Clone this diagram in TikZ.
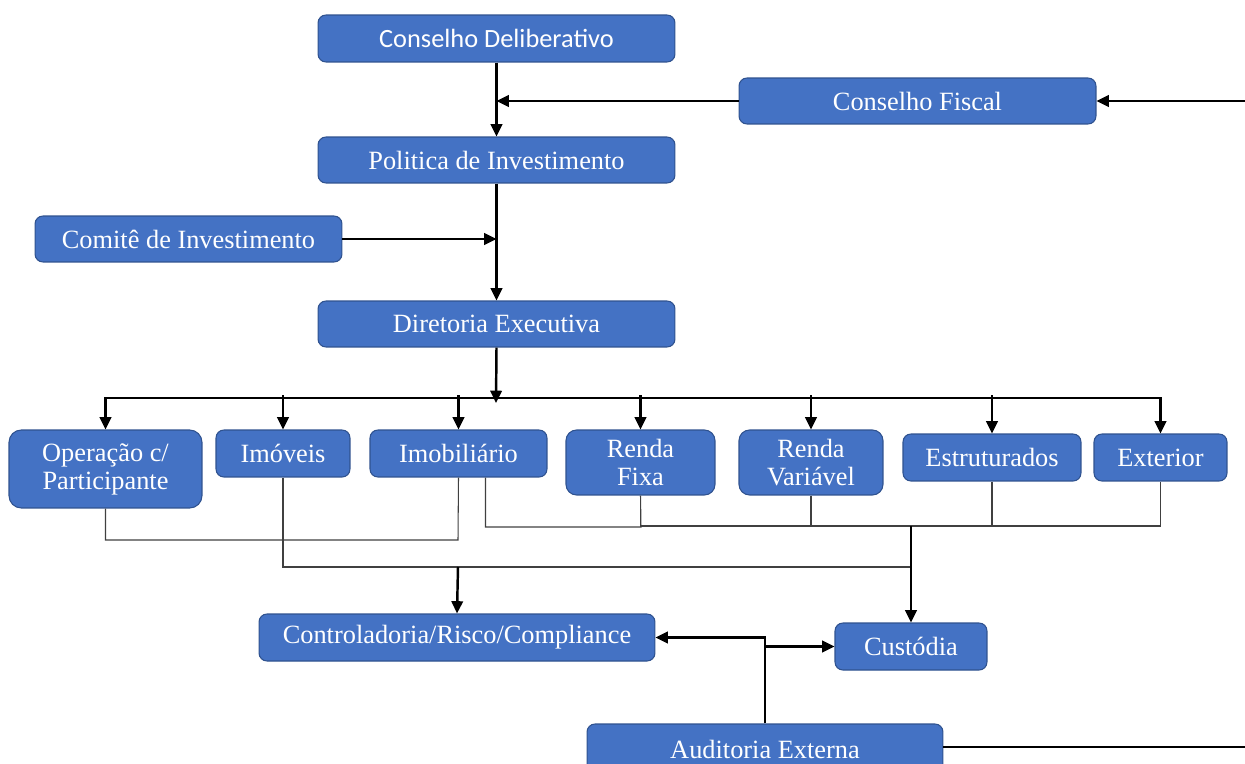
\documentclass[tikz,border=0pt]{standalone}
\usepackage{fontspec}
\setmainfont{Liberation Serif}
\newfontfamily\calib{Carlito}
\usepackage{tikz}
\usetikzlibrary{arrows.meta}

\tikzset{
  box/.style={draw=boxline, fill=boxblue, rounded corners=4.5pt, line width=0.6pt,
    text=white, inner sep=0pt, align=center, font=\fontsize{15}{16}\selectfont},
  arr/.style={-{Triangle[length=7pt,width=6.5pt]}, line width=1.4pt},
  twoarr/.style={{Triangle[length=7pt,width=6.5pt]}-{Triangle[length=7pt,width=6.5pt]}, line width=1.4pt},
  thin/.style={line width=0.6pt, draw=black!75}
}
\definecolor{boxblue}{HTML}{4472C4}
\definecolor{boxline}{HTML}{2F528F}

\begin{document}
\begin{tikzpicture}[x=0.02cm, y=-0.02cm]
\useasboundingbox (0,0) rectangle (1245,764);

\node[box, minimum width=7.14cm, minimum height=0.94cm, font=\calib\fontsize{15}{16}\selectfont] (cd) at (496.5,38.5) {Conselho Deliberativo};
\node[box, minimum width=7.14cm, minimum height=0.92cm] (cf) at (917.5,101) {Conselho Fiscal};
\node[box, minimum width=7.14cm, minimum height=0.92cm] (pi) at (496.5,160) {Politica de Investimento};
\node[box, minimum width=6.14cm, minimum height=0.92cm] (ci) at (188.5,239) {Comitê de Investimento};
\node[box, minimum width=7.14cm, minimum height=0.92cm] (de) at (496.5,324) {Diretoria Executiva};

\node[box, minimum width=3.86cm, minimum height=1.56cm, rounded corners=7pt] (op) at (105.5,469) {Operação c/\\Participante};
\node[box, minimum width=2.68cm, minimum height=0.94cm] (imo) at (283,453.5) {Imóveis};
\node[box, minimum width=3.54cm, minimum height=0.94cm] (imb) at (458.5,453.5) {Imobiliário};
\node[box, minimum width=2.98cm, minimum height=1.30cm, rounded corners=6pt] (rf) at (640.5,462.5) {Renda\\Fixa};
\node[box, minimum width=2.88cm, minimum height=1.30cm, rounded corners=6pt] (rv) at (811,462.5) {Renda\\Variável};
\node[box, minimum width=3.56cm, minimum height=0.94cm] (est) at (992,457.5) {Estruturados};
\node[box, minimum width=2.66cm, minimum height=0.94cm] (ext) at (1160.5,457.5) {Exterior};

\node[box, minimum width=7.92cm, minimum height=0.94cm] (ctl) at (457,637.5) {Controladoria/Risco/Compliance};
\node[box, minimum width=3.04cm, minimum height=0.94cm] (cus) at (911,646.5) {Custódia};
\node[box, minimum width=7.12cm, minimum height=1.02cm] (aud) at (765,749.5) {Auditoria Externa};

\coordinate (rt1) at (1245,101);
\coordinate (rt2) at (1245,747);
\coordinate (bus) at (496,403);
\coordinate (busl) at (496,398);
\coordinate (top) at (0,395);
\coordinate (l1) at (458,540);
\coordinate (l2) at (911,567);
\coordinate (l3) at (458,567);
\coordinate (l4) at (641,527);
\coordinate (l5) at (911,526);

% upper chain
\draw[arr] (cd.south) -- (pi.north);
\draw[arr] (cf.west) -- (cf.west -| cd.south);
\draw[arr] (rt1) -- (cf.east);
\draw[arr] (pi.south) -- (de.north);
\draw[arr] (ci.east) -- (ci.east -| pi.south);
\draw[arr] (de.south) -- (bus);

% distribution bus
\draw[twoarr] (op.north) |- (busl) -| (ext.north);
\foreach \n in {imo,imb,rf,rv,est}
  \draw[arr] (\n.north |- top) -- (\n.north);

% collecting lines
\draw[thin] (op.south) |- (l1) -- (imb.south);
\draw[thin] (imo.south) |- (l2);
\draw[thin] ([xshift=0.54cm]imb.south) |- (l4) -- (rf.south);
\draw[thin] (rf.south) |- (l5) -| (ext.south);
\draw[thin] (rv.south) -- (rv.south |- l5);
\draw[thin] (est.south) -- (est.south |- l5);
\draw[arr] (l3) -- (ctl.north);
\draw[arr] (l5) -- (cus.north);

% auditing
\draw[arr] (aud.north) |- (ctl.east);
\draw[arr] (aud.north |- cus.west) -- (cus.west);
\draw[line width=1.4pt] (aud.east |- rt2) -- (rt2);
\end{tikzpicture}
\end{document}
